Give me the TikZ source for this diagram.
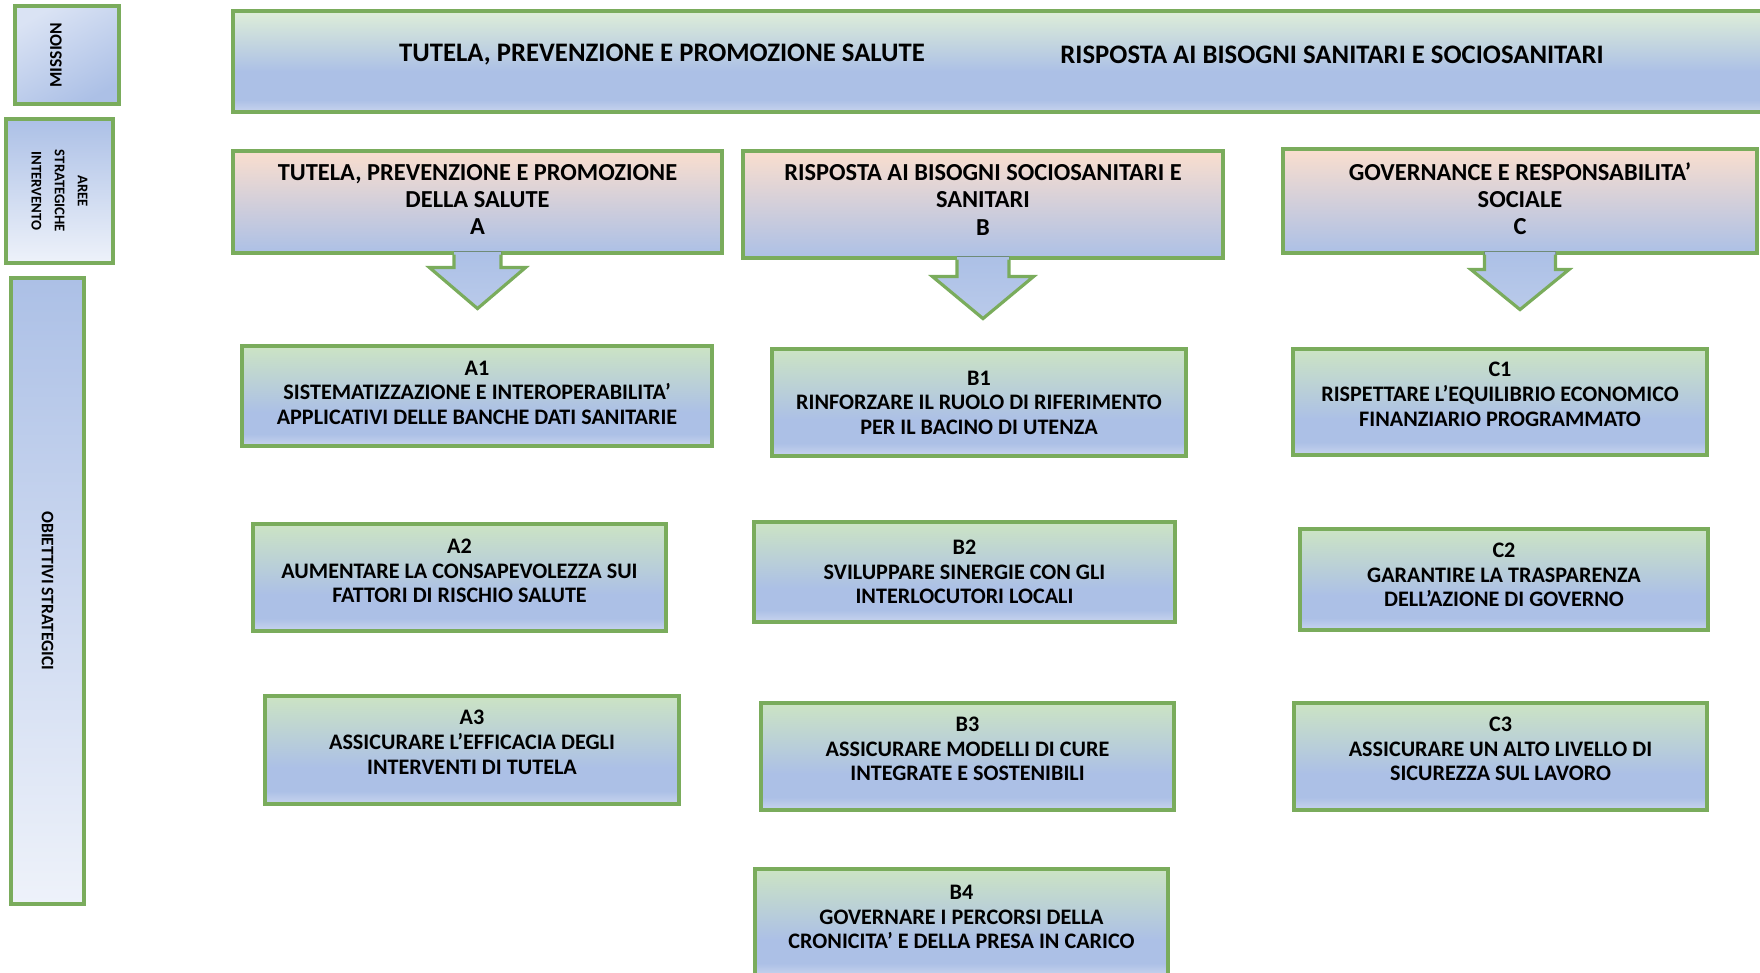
\documentclass[tikz,border=0pt]{standalone}
\usepackage{fontspec}
\setmainfont{Carlito}
\usetikzlibrary{calc}

\definecolor{boxgreen}{RGB}{122,172,92}
\definecolor{skyblue}{RGB}{172,192,230}
\definecolor{paleblue}{RGB}{238,242,250}
\definecolor{palegreen}{RGB}{204,228,196}
\definecolor{peach}{RGB}{250,222,206}
\definecolor{mintgreen}{RGB}{222,238,216}
\definecolor{lightrim}{RGB}{200,212,238}

\pgfdeclareverticalshading{goalshade}{100bp}{color(0bp)=(lightrim); color(25bp)=(lightrim); color(31bp)=(skyblue); color(42bp)=(skyblue); color(75bp)=(palegreen); color(100bp)=(palegreen)}
\pgfdeclareverticalshading{areashade}{100bp}{color(0bp)=(skyblue); color(25bp)=(skyblue); color(75bp)=(peach); color(100bp)=(peach)}
\pgfdeclareverticalshading{topshade}{100bp}{color(0bp)=(lightrim); color(25bp)=(lightrim); color(31bp)=(skyblue); color(45bp)=(skyblue); color(75bp)=(mintgreen); color(100bp)=(mintgreen)}

\tikzset{
  frame/.style={draw=boxgreen, line width=0.9pt, inner sep=0pt, align=center},
  topbox/.style={frame, shade, shading=topshade},
  toptext/.style={font=\bfseries\fontsize{7.6}{9}\selectfont},
  sidebox/.style={frame, shade, top color=skyblue, bottom color=paleblue},
  sidetext/.style={font=\bfseries\fontsize{5}{6.4}\selectfont, align=center},
  areabox/.style={frame, shade, shading=areashade, font=\bfseries\fontsize{6.95}{7.7}\selectfont},
  goalbox/.style={frame, shade, shading=goalshade, font=\bfseries\fontsize{6.3}{7.0}\selectfont},
  arrowfill/.style={top color=skyblue, bottom color=skyblue!80!paleblue},
  arrowline/.style={draw=boxgreen, line width=0.9pt, line join=miter}
}

\begin{document}
\begin{tikzpicture}
\useasboundingbox (0,0) rectangle (17.6,9.72);

% left column
\node[sidebox, top color=paleblue!70!skyblue, bottom color=skyblue, shading angle=30, minimum width=1.04cm, minimum height=0.98cm] (lblmission) at (0.67,9.17) {};
\node[sidetext, rotate=90] (txtmission) at (0.56,9.17) {MISSION};
\node[sidebox, minimum width=1.07cm, minimum height=1.44cm] (lblaree) at (0.595,7.81) {};
\node[sidetext, rotate=-90, font=\bfseries\fontsize{4.2}{6.6}\selectfont] (txtaree) at (lblaree) {AREE\\STRATEGICHE\\INTERVENTO};
\node[sidebox, minimum width=0.73cm, minimum height=6.26cm] (lblgoals) at (0.475,3.81) {};
\node[sidetext, rotate=-90] (txtgoals) at (lblgoals) {OBIETTIVI STRATEGICI};

% mission
\node[topbox, minimum width=15.42cm, minimum height=1.01cm] (mission) at (10.04,9.105) {};
\node[toptext] (missionA) at (6.62,9.17) {TUTELA, PREVENZIONE E PROMOZIONE SALUTE};
\node[toptext] (missionB) at (13.32,9.17) {RISPOSTA AI BISOGNI SANITARI E SOCIOSANITARI};

% aree strategiche
\node[areabox, minimum width=4.89cm, minimum height=1.02cm, text depth=1.3pt] (areaA) at (4.775,7.70) {TUTELA, PREVENZIONE E PROMOZIONE\\DELLA SALUTE\\A};
\node[areabox, minimum width=4.80cm, minimum height=1.07cm, text depth=2.6pt] (areaB) at (9.83,7.675) {RISPOSTA AI BISOGNI SOCIOSANITARI E\\SANITARI\\B};
\node[areabox, minimum width=4.74cm, minimum height=1.04cm, text depth=1.3pt] (areaC) at (15.20,7.71) {GOVERNANCE E RESPONSABILITA’\\SOCIALE\\C};

% frecce
\foreach \src/\sw/\hw/\sl/\hl in {areaA/0.235/0.48/0.13/0.41, areaB/0.26/0.505/0.17/0.42, areaC/0.355/0.49/0.15/0.40} {
  \fill[arrowfill] ($(\src.south)+(-\sw,0.03)$) -- ($(\src.south)+(-\sw,-\sl)$) -- ($(\src.south)+(-\hw,-\sl)$)
    -- ($(\src.south)+(0,-\sl-\hl)$) -- ($(\src.south)+(\hw,-\sl)$) -- ($(\src.south)+(\sw,-\sl)$) -- ($(\src.south)+(\sw,0.03)$) -- cycle;
  \draw[arrowline] ($(\src.south)+(-\sw,0)$) -- ($(\src.south)+(-\sw,-\sl)$) -- ($(\src.south)+(-\hw,-\sl)$)
    -- ($(\src.south)+(0,-\sl-\hl)$) -- ($(\src.south)+(\hw,-\sl)$) -- ($(\src.south)+(\sw,-\sl)$) -- ($(\src.south)+(\sw,0)$);
}

% obiettivi strategici
\node[goalbox, minimum width=4.70cm, minimum height=1.00cm, text depth=2pt] (goalA1) at (4.77,5.76) {A1\\SISTEMATIZZAZIONE E INTEROPERABILITA’\\APPLICATIVI DELLE BANCHE DATI SANITARIE};
\node[goalbox, minimum width=4.13cm, minimum height=1.07cm, text depth=3.8pt] (goalA2) at (4.595,3.945) {A2\\AUMENTARE LA CONSAPEVOLEZZA SUI\\FATTORI DI RISCHIO SALUTE};
\node[goalbox, minimum width=4.14cm, minimum height=1.08cm, text depth=4.4pt] (goalA3) at (4.72,2.22) {A3\\ASSICURARE L’EFFICACIA DEGLI\\INTERVENTI DI TUTELA};
\node[goalbox, minimum width=4.14cm, minimum height=1.07cm] (goalB1) at (9.79,5.695) {B1\\RINFORZARE IL RUOLO DI RIFERIMENTO\\PER IL BACINO DI UTENZA};
\node[goalbox, minimum width=4.21cm, minimum height=1.00cm] (goalB2) at (9.645,4.00) {B2\\SVILUPPARE SINERGIE CON GLI\\INTERLOCUTORI LOCALI};
\node[goalbox, minimum width=4.13cm, minimum height=1.07cm, text depth=4.4pt] (goalB3) at (9.675,2.155) {B3\\ASSICURARE MODELLI DI CURE\\INTEGRATE E SOSTENIBILI};
\node[goalbox, minimum width=4.13cm, minimum height=1.07cm, text depth=3.2pt] (goalB4) at (9.615,0.495) {B4\\GOVERNARE I PERCORSI DELLA\\CRONICITA’ E DELLA PRESA IN CARICO};
\node[goalbox, minimum width=4.14cm, minimum height=1.06cm, text depth=4.4pt] (goalC1) at (15.00,5.70) {C1\\RISPETTARE L’EQUILIBRIO ECONOMICO\\FINANZIARIO PROGRAMMATO};
\node[goalbox, minimum width=4.08cm, minimum height=1.01cm, text depth=2.6pt] (goalC2) at (15.04,3.925) {C2\\GARANTIRE LA TRASPARENZA\\DELL’AZIONE DI GOVERNO};
\node[goalbox, minimum width=4.13cm, minimum height=1.07cm, text depth=4.4pt] (goalC3) at (15.005,2.155) {C3\\ASSICURARE UN ALTO LIVELLO DI\\SICUREZZA SUL LAVORO};

\end{tikzpicture}
\end{document}
